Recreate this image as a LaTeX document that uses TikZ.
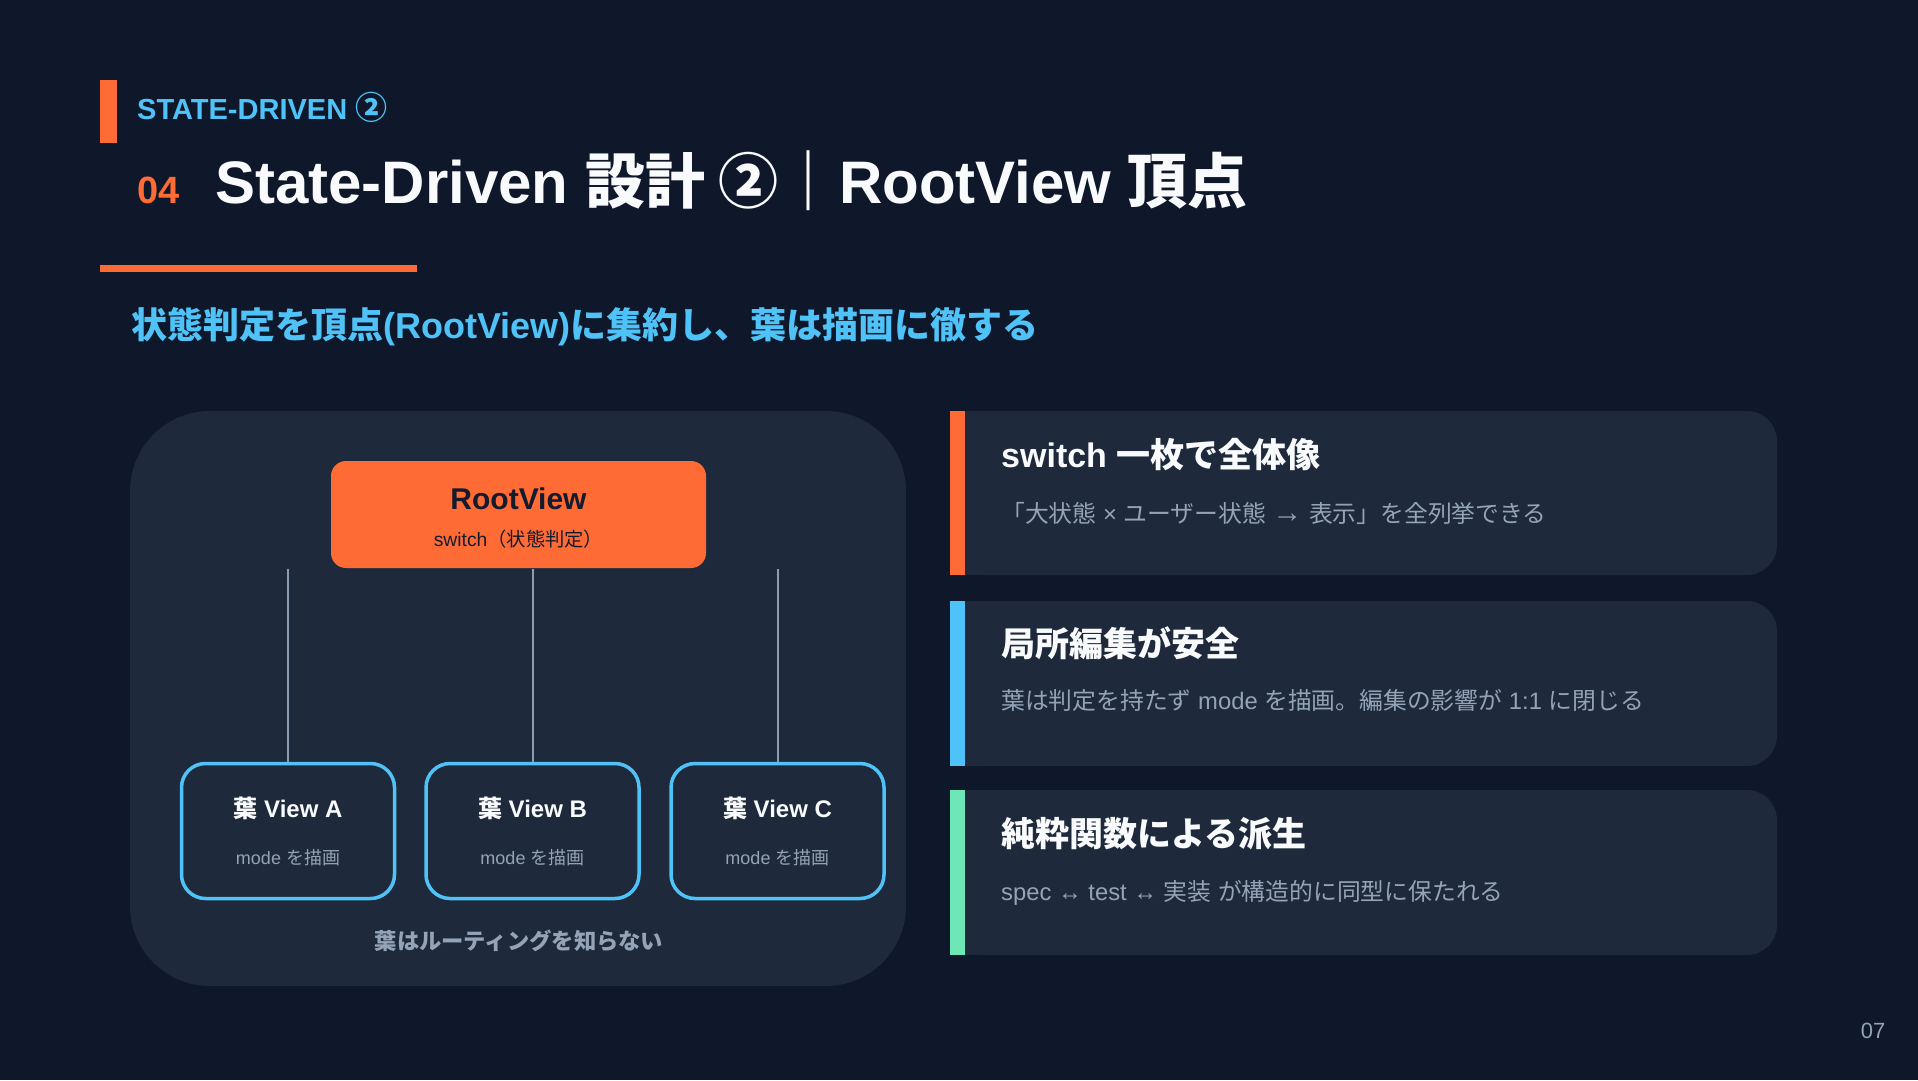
\documentclass[tikz,border=0pt]{standalone}
\usepackage{fontspec}
\setmainfont{Liberation Sans}
\newfontfamily\cjk{Noto Sans CJK JP}
\newcommand\J[1]{{\cjk #1}}
\newcommand\fs[1]{\fontsize{#1}{#1}\selectfont}
\definecolor{bg}{HTML}{0F172A}
\definecolor{panel}{HTML}{1E293B}
\definecolor{accorange}{HTML}{FF6B35}
\definecolor{accblue}{HTML}{4FC3F7}
\definecolor{accgreen}{HTML}{6EE7B7}
\definecolor{txtwhite}{HTML}{F8FAFC}
\definecolor{txtgray}{HTML}{94A3B8}
\definecolor{txtdark}{HTML}{141B2D}
\definecolor{linegray}{HTML}{8B9BB4}
\tikzset{
  txt/.style={inner sep=0pt, anchor=base west},
  ctxt/.style={inner sep=0pt, anchor=base},
  rootbox/.style={fill=accorange, rounded corners=15pt, minimum width=375pt, minimum height=107pt, inner sep=0pt},
  leafbox/.style={fill=panel, draw=accblue, line width=3.5pt, rounded corners=24pt, minimum width=213pt, minimum height=135pt, inner sep=0pt},
  conn/.style={draw=linegray, line width=2pt},
  cardtitle/.style={txt, text=txtwhite, font=\fs{34}\bfseries},
  carddesc/.style={txt, text=txtgray, font=\fs{23.8}},
}
\begin{document}
\begin{tikzpicture}[x=1pt,y=-1pt]
\useasboundingbox (0,0) rectangle (1918,1080);
\fill[bg] (0,0) rectangle (1918,1080);

% header
\fill[accorange] (100,80) rectangle (117,143);
\node[txt, text=accblue, font=\fs{29}\bfseries] (kicker) at (137,119) {STATE-DRIVEN {\cjk\fs{32}②}};
\node[txt, text=accorange, font=\fs{38}\bfseries] (num) at (137,203) {04};
\node[txt, text=txtwhite, font=\fs{60}\bfseries] (title) at (215,203) {State-Driven \J{設計 ②｜}RootView \J{頂点}};
\fill[accorange] (100,265) rectangle (417,272);
\node[txt, text=accblue, font=\fs{36}\bfseries] (subtitle) at (131,338) {\J{状態判定を頂点}(RootView)\J{に集約し、葉は描画に徹する}};

% left panel
\fill[panel, rounded corners=80pt] (130,411) rectangle (906,986);
\node[rootbox] (root) at (518.5,514.5) {};
\node[ctxt, text=txtdark, font=\fs{30}\bfseries] (rootname) at (518.5,509) {RootView};
\node[ctxt, text=txtdark, font=\fs{19.3}] (rootsub) at (518.5,546) {switch\J{（状態判定）}};

\node[leafbox] (leafA) at (288,831) {};
\node[leafbox] (leafB) at (532.5,831) {};
\node[leafbox] (leafC) at (777.5,831) {};
\foreach \n/\l in {A/A,B/B,C/C}{
  \node[ctxt, text=txtwhite, font=\fs{24}\bfseries] (t\n) at ([yshift=14pt]leaf\n.center) {\J{葉} View \l};
  \node[ctxt, text=txtgray, font=\fs{18}] (s\n) at ([yshift=-33pt]leaf\n.center) {mode \J{を描画}};
}
\coordinate (ca) at (288,569);
\coordinate (cb) at (532.5,569);
\coordinate (cc) at (777.5,569);
\draw[conn] (ca) -- (leafA.north);
\draw[conn] (cb) -- (leafB.north);
\draw[conn] (cc) -- (leafC.north);
\node[ctxt, text=txtgray, font=\fs{22.3}\bfseries] (caption) at (519,949) {\J{葉はルーティングを知らない}};

% right cards
\foreach \ya/\yb/\c in {411/575/accorange, 601/766/accblue, 790/955/accgreen}{
  \fill[panel, rounded corners=30pt] (950,\ya) rectangle (1777,\yb);
  \fill[panel] (950,\ya) rectangle (1000,\yb);
  \fill[\c] (950,\ya) rectangle (965,\yb);
}
\node[cardtitle] (c1t) at (1001,467) {switch \J{一枚で全体像}};
\node[carddesc] (c1d) at (1001,522) {\J{「大状態} × \J{ユーザー状態} {\fs{30}\bfseries →} \J{表示」を全列挙できる}};
\node[cardtitle] (c2t) at (1001,656) {\J{局所編集が安全}};
\node[carddesc] (c2d) at (1001,709) {\J{葉は判定を持たず} mode \J{を描画。編集の影響が} 1:1 \J{に閉じる}};
\node[cardtitle] (c3t) at (1001,846) {\J{純粋関数による派生}};
\node[carddesc] (c3d) at (1001,900) {spec ↔ test ↔ \J{実装} \J{が構造的に同型に保たれる}};

\node[ctxt, text=txtgray, font=\fs{22}] (pagenum) at (1873,1038) {07};
\end{tikzpicture}
\end{document}
